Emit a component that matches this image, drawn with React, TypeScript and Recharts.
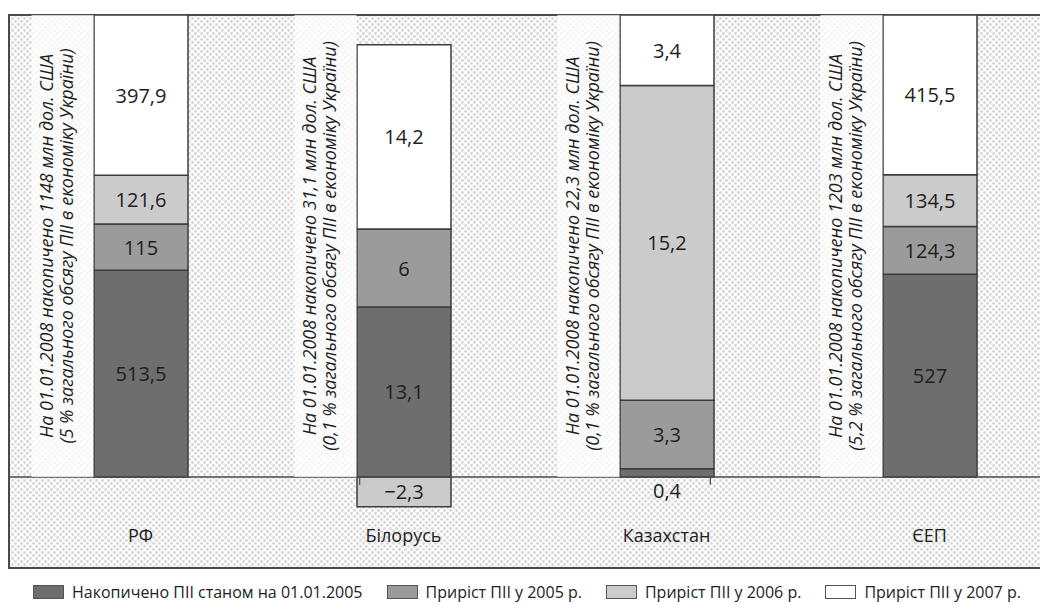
import React from 'react';
import {
  BarChart, Bar, XAxis, YAxis, CartesianGrid, ReferenceLine, ReferenceArea, ReferenceDot, LabelList,
} from 'recharts';

const FONT = '"Open Sans", "Noto Sans", sans-serif';

// країни / категорії
const countries = ['РФ', 'Білорусь', 'Казахстан', 'ЄЕП'];

// млн дол. США
const accumulated2005 = [513.5, 13.1, 0.4, 527];
const growth2005      = [115, 6, 3.3, 124.3];
const growth2006      = [121.6, -2.3, 15.2, 134.5];
const growth2007      = [397.9, 14.2, 3.4, 415.5];

// підписи біля стовпців
const totals = ['1148', '31,1', '22,3', '1203'];
const shares = ['5', '0,1', '0,1', '5,2'];

const SERIES = [
  { key: 'acc', name: 'Накопичено ПІІ станом на 01.01.2005', values: accumulated2005, fill: '#6e6e6e' },
  { key: 'g05', name: 'Приріст ПІІ у 2005 р.',               values: growth2005,      fill: '#9b9b9b' },
  { key: 'g06', name: 'Приріст ПІІ у 2006 р.',               values: growth2006,      fill: '#cbcbcb' },
  { key: 'g07', name: 'Приріст ПІІ у 2007 р.',               values: growth2007,      fill: '#ffffff' },
];

// кожен стовпець нормується на суму модулів своїх складових
const rows = countries.map((country, i) => {
  const abs = SERIES.reduce((s, ser) => s + Math.abs(ser.values[i]), 0);
  const row: Record<string, any> = { country };
  SERIES.forEach(ser => {
    row[ser.key] = ser.values[i] / abs;
    row[ser.key + 'Raw'] = ser.values[i];
  });
  return row;
});

const fmt = (v: number) => (v < 0 ? '\u2212' : '') + String(Math.abs(v)).replace('.', ',');

const SegmentLabel = (props: any) => {
  const { x, y, width, height, value } = props;
  const top = Math.min(y, y + height);
  const h = Math.abs(height);
  const cx = x + width / 2;
  // замалий сегмент: підпис під віссю
  const cy = h < 16 ? top + h + 14 : top + h / 2;
  return (
    <text x={cx} y={cy} textAnchor="middle" dominantBaseline="central"
      style={{ fontFamily: FONT, fontSize: 20, fill: '#1e1e1e' }}>
      {fmt(value)}
    </text>
  );
};

const Annotation = ({ viewBox, index }: any) => {
  const cx = viewBox.x + viewBox.width / 2;
  const cy = viewBox.y + viewBox.height / 2;
  const barLeft = cx - 47;
  const l1 = barLeft - 47;
  const l2 = barLeft - 27;
  const style = { fontFamily: FONT, fontSize: 18, fontStyle: 'italic' as const, fill: '#1e1e1e' };
  return (
    <g>
      <rect x={barLeft - 62} y={cy - 231} width={62} height={462} fill="#ffffff" fillOpacity={0.75} />
      <text x={l1} y={cy} transform={`rotate(-90, ${l1}, ${cy})`} textAnchor="middle" dominantBaseline="central" style={style}>
        {`На 01.01.2008 накопичено ${totals[index]} млн дол. США`}
      </text>
      <text x={l2} y={cy} transform={`rotate(-90, ${l2}, ${cy})`} textAnchor="middle" dominantBaseline="central" style={style}>
        {`(${shares[index]} % загального обсягу ПІІ в економіку України)`}
      </text>
    </g>
  );
};

const CountryLabel = ({ viewBox, name }: any) => (
  <text x={viewBox.x + viewBox.width / 2} y={viewBox.y + viewBox.height / 2} textAnchor="middle" dominantBaseline="central"
    style={{ fontFamily: FONT, fontSize: 18, fill: '#1e1e1e' }}>
    {name}
  </text>
);

export default function App() {
  return (
    <div style={{ fontFamily: FONT, width: 1040, marginRight: -8 }}>
      <div style={{ width: 1040, height: 562, overflow: 'hidden' }}>
        <BarChart width={1060} height={562} data={rows} stackOffset="sign" barSize={94}
          margin={{ top: 7, right: 7, bottom: 2, left: 1 }}>
          <defs>
            <pattern id="dots" width="6" height="6" patternUnits="userSpaceOnUse">
              <rect width="6" height="6" fill="#fbfbfb" />
              <circle cx="1.5" cy="1.5" r="1.4" fill="#d8d8d8" />
              <circle cx="4.5" cy="4.5" r="1.4" fill="#d8d8d8" />
            </pattern>
          </defs>
          <CartesianGrid horizontal={false} vertical={false} fill="url(#dots)" />
          <XAxis dataKey="country" hide />
          <XAxis xAxisId="num" type="number" domain={[0, 4]} hide />
          <YAxis hide type="number" domain={[-0.197, 1]} allowDataOverflow />
          <ReferenceArea xAxisId="num" x1={0} x2={4} y1={-0.197} y2={1} fill="none" stroke="#4a4a4a" strokeWidth={2} ifOverflow="visible" />
          <ReferenceLine y={0} stroke="#4a4a4a" strokeWidth={1.5} />
          {[1, 2, 3].map(b => (
            <ReferenceLine key={b} xAxisId="num" segment={[{ x: b, y: 0 }, { x: b, y: -0.017 }]} stroke="#4a4a4a" strokeWidth={1.2} />
          ))}
          {countries.map((c, i) => (
            <ReferenceDot key={c} x={c} y={0.5} r={1} fill="none" stroke="none" ifOverflow="visible"
              label={(p: any) => <Annotation {...p} index={i} />} />
          ))}
          {countries.map(c => (
            <ReferenceDot key={'l' + c} x={c} y={-0.126} r={1} fill="none" stroke="none" ifOverflow="visible"
              label={(p: any) => <CountryLabel {...p} name={c} />} />
          ))}
          {SERIES.map(s => (
            <Bar key={s.key} dataKey={s.key} name={s.name} stackId="a" fill={s.fill}
              stroke="#3c3c3c" strokeWidth={1.5} isAnimationActive={false}>
              <LabelList dataKey={s.key + 'Raw'} content={<SegmentLabel />} />
            </Bar>
          ))}
        </BarChart>
      </div>
      <div style={{ display: 'flex', alignItems: 'center', paddingLeft: 25, gap: 24, marginTop: 11, fontSize: 16, color: '#222' }}>
        {SERIES.map(s => (
          <div key={s.key} style={{ display: 'flex', alignItems: 'center', gap: 8 }}>
            <span style={{ width: 29, height: 12, background: s.fill, border: '1px solid #555', display: 'inline-block' }} />
            <span>{s.name}</span>
          </div>
        ))}
      </div>
    </div>
  );
}
